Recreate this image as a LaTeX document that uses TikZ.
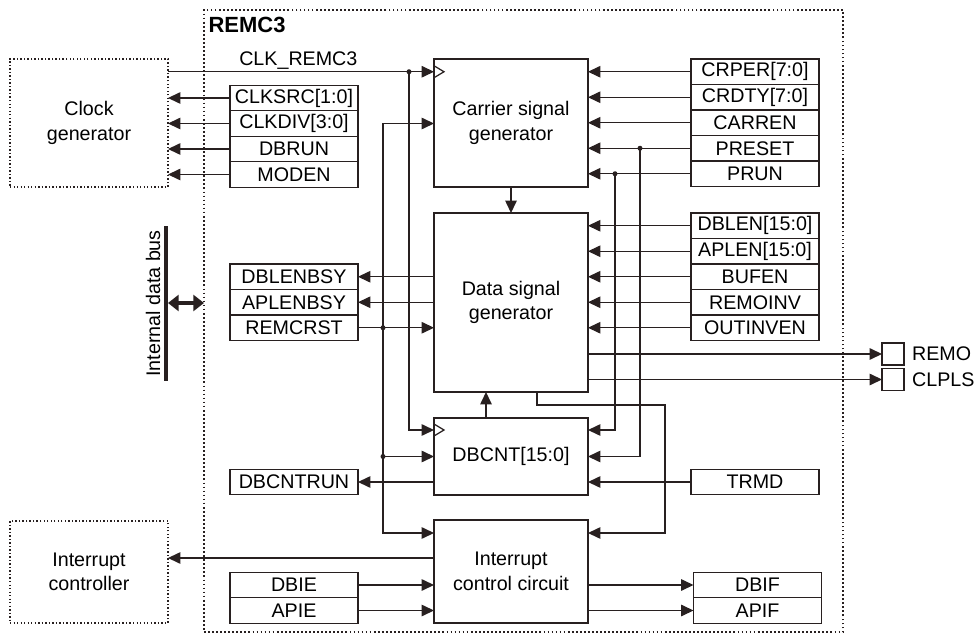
\documentclass[tikz,border=0pt]{standalone}
\usepackage{fontspec}
\setmainfont{Liberation Sans}
\definecolor{wire}{RGB}{40,32,32}
\usetikzlibrary{arrows.meta, positioning, calc}

\begin{document}
\begin{tikzpicture}[x=0.2mm, y=-0.2mm, line width=0.7pt, color=wire,
  every node/.style={font=\fontsize{11.2}{14}\selectfont, text=black},
  block/.style={draw=wire, line width=0.9pt, minimum width=3.08cm, inner sep=0, outer sep=0, align=center},
  reg/.style={draw=wire, minimum width=2.56cm, minimum height=0.51cm, inner sep=0, outer sep=0},
  ext/.style={draw=wire, line width=0.8pt, dash pattern=on 0.8pt off 1.2pt, minimum width=3.16cm, inner sep=0, outer sep=0, align=center},
  port/.style={draw=wire, minimum size=0.44cm, inner sep=0, outer sep=0},
  sig/.style={-{Triangle[length=7pt, width=6.5pt]}},
  sigboth/.style={{Triangle[length=7pt, width=6.5pt]}-{Triangle[length=7pt, width=6.5pt]}},
  junc/.style={circle, fill=wire, inner sep=0, minimum size=0.1cm}]
\useasboundingbox (0,0) rectangle (979,635);
\node[draw=wire, line width=1pt, dash pattern=on 1pt off 1.3pt, minimum width=12.78cm, minimum height=12.44cm, inner sep=0, outer sep=0]
  (remc) at (523.5,321) {};
\node[anchor=north west, font=\fontsize{12.5}{14}\selectfont\bfseries, inner xsep=0.08cm, inner ysep=0.14cm]
  (title) at (remc.north west) {REMC3};
\node[ext, minimum height=2.56cm] (clkgen) at (89,123) {Clock\\generator};
\node[ext, minimum height=2.04cm] (intctl) at (89,572) {Interrupt\\controller};
\node[block, minimum height=2.56cm] (carrier) at (511,123) {Carrier signal\\generator};
\node[block, minimum height=3.58cm] (data) at (511,302.5) {Data signal\\generator};
\node[block, minimum height=1.54cm] (dbcnt) at (511,456.5) {DBCNT[15:0]};
\node[block, minimum height=2.06cm] (intr) at (511,571.5) {Interrupt\\control circuit};
\node[reg] (clksrc) at (294,98) {CLKSRC[1:0]};
\node[reg] (clkdiv) at (294,123.5) {CLKDIV[3:0]};
\node[reg] (dbrun) at (294,149) {DBRUN};
\node[reg] (moden) at (294,174.5) {MODEN};
\node[reg] (dblenbsy) at (294,276.75) {DBLENBSY};
\node[reg] (aplenbsy) at (294,302.25) {APLENBSY};
\node[reg] (remcrst) at (294,327.75) {REMCRST};
\node[reg] (dbcntrun) at (294,482) {DBCNTRUN};
\node[reg] (dbie) at (294,585) {DBIE};
\node[reg] (apie) at (294,610.5) {APIE};
\node[reg] (crper) at (755,71.75) {CRPER[7:0]};
\node[reg] (crdty) at (755,97.25) {CRDTY[7:0]};
\node[reg] (carren) at (755,122.75) {CARREN};
\node[reg] (preset) at (755,148.25) {PRESET};
\node[reg] (prun) at (755,173.75) {PRUN};
\node[reg] (dblen) at (755,225.75) {DBLEN[15:0]};
\node[reg] (aplen) at (755,251.25) {APLEN[15:0]};
\node[reg] (bufen) at (755,276.75) {BUFEN};
\node[reg] (remoinv) at (755,302.25) {REMOINV};
\node[reg] (outinven) at (755,327.75) {OUTINVEN};
\node[reg] (trmd) at (755,482) {TRMD};
\node[reg] (dbif) at (757.5,585) {DBIF};
\node[reg] (apif) at (757.5,610.5) {APIF};
\node[port] (remo) at (893,354) {};
\node[port] (clpls) at (893,379.5) {};
\node[anchor=west, inner xsep=0.15cm] (remolbl) at (remo.east) {REMO};
\node[anchor=west, inner xsep=0.15cm] (clplslbl) at (clpls.east) {CLPLS};
\node[fill=wire, minimum width=0.08cm, minimum height=3.1cm, inner sep=0, outer sep=0] (bus) at (166,303.5) {};
\node[rotate=90, anchor=south, inner sep=0.06cm] (buslbl) at (bus.west) {Internal data bus};
\draw[{Triangle[length=6pt, width=9pt]}-{Triangle[length=6pt, width=9pt]}, line width=2pt]
  (bus.east |- 0,303) -- (remc.west |- 0,303);
\node[junc] (j1) at (409,71.75) {};
\node[junc] (j2) at (383,327.75) {};
\node[junc] (j3) at (383,456.5) {};
\node[junc] (j4) at (640,148.25) {};
\node[junc] (j5) at (615,173.75) {};
\draw[sig] (clkgen.east |- crper) -- (carrier.west |- crper) node[pos=0.49, above, inner sep=0.03cm] {CLK\_REMC3};
\draw (carrier.west |- crper) ++(0,-6) -- ++(10,6) -- ++(-10,6);
\draw[sig] (clksrc.west) -- (clksrc -| clkgen.east);
\draw[sig] (clkdiv.west) -- (clkdiv -| clkgen.east);
\draw[sig] (dbrun.west) -- (dbrun -| clkgen.east);
\draw[sig] (moden.west) -- (moden -| clkgen.east);
\draw[sig] (j1.center) |- (dbcnt.west |- 0,430);
\draw (dbcnt.west |- 0,430) ++(0,-6) -- ++(10,6) -- ++(-10,6);
\draw[sigboth] (carrier.west |- clkdiv) -| (383,533) -- (intr.west |- 0,533);
\draw[sig] (remcrst.east) -- (remcrst -| data.west);
\draw[sig] (j3.center) -- (dbcnt.west);
\draw[sig] (crper.west) -- (crper -| carrier.east);
\draw[sig] (crdty.west) -- (crdty -| carrier.east);
\draw[sig] (carren.west) -- (carren -| carrier.east);
\draw[sig] (preset.west) -- (preset -| carrier.east);
\draw[sig] (prun.west) -- (prun -| carrier.east);
\draw[sig] (j4.center) |- (dbcnt.east);
\draw[sig] (j5.center) |- (dbcnt.east |- 0,430);
\draw[sig] (carrier.south) -- (data.north);
\draw[sig] (dblen.west) -- (dblen -| data.east);
\draw[sig] (aplen.west) -- (aplen -| data.east);
\draw[sig] (bufen.west) -- (bufen -| data.east);
\draw[sig] (remoinv.west) -- (remoinv -| data.east);
\draw[sig] (outinven.west) -- (outinven -| data.east);
\draw[sig] (data.west |- dblenbsy) -- (dblenbsy.east);
\draw[sig] (data.west |- aplenbsy) -- (aplenbsy.east);
\draw[sig] (data.east |- remo) -- (remo.west);
\draw[sig] (data.east |- clpls) -- (clpls.west);
\draw[sig] (data.south -| 537,0) |- (665,405) |- (intr.east |- 0,533);
\draw[sig] (dbcnt.north -| 486,0) -- (data.south -| 486,0);
\draw[sig] (trmd.west) -- (trmd -| dbcnt.east);
\draw[sig] (dbcnt.west |- dbcntrun) -- (dbcntrun.east);
\draw[sig] (intr.west |- 0,558) -- (intctl.east |- 0,558);
\draw[sig] (dbie.east) -- (dbie -| intr.west);
\draw[sig] (apie.east) -- (apie -| intr.west);
\draw[sig] (intr.east |- dbif) -- (dbif.west);
\draw[sig] (intr.east |- apif) -- (apif.west);
\end{tikzpicture}
\end{document}
